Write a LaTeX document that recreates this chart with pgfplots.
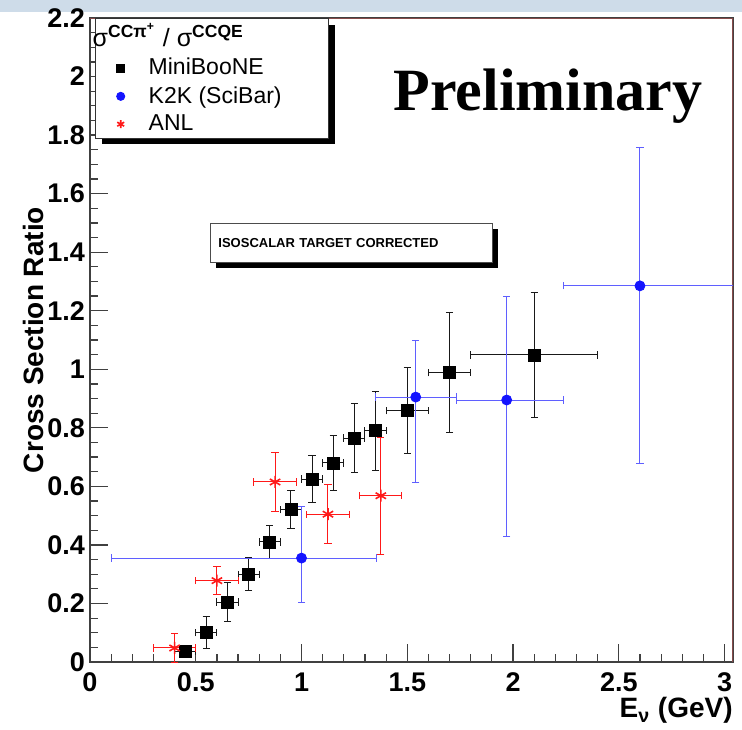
\documentclass[border=0pt]{standalone}
\usepackage{pgfplots}
\pgfplotsset{compat=1.18}
\usepackage{fontspec}
\setmainfont{Liberation Sans}
\newfontfamily\timesfont{Liberation Serif}
\usetikzlibrary{shadows}
\definecolor{k2kblue}{RGB}{20,20,255}
\definecolor{k2kerr}{RGB}{95,95,255}
\definecolor{anlred}{RGB}{255,25,25}
\definecolor{framebrown}{RGB}{135,75,75}
\definecolor{slidebar}{RGB}{206,220,233}

\begin{document}
\begin{tikzpicture}
% page frame: 742 x 729 px at 0.5pt per px, axis box at px (90..733, 18..662)
\useasboundingbox (-45pt,-33.5pt) rectangle (326pt,331pt);
\fill[slidebar] (-45pt,325pt) rectangle (326pt,331pt);
\begin{axis}[
  at={(0pt,0pt)}, anchor=south west,
  scale only axis, width=321.5pt, height=322pt,
  xmin=0, xmax=3.04, ymin=0, ymax=2.2,
  xtick={0,0.5,1,1.5,2,2.5,3},
  ytick={0,0.2,0.4,0.6,0.8,1,1.2,1.4,1.6,1.8,2,2.2},
  minor x tick num=4, minor y tick num=3,
  tick pos=left, tick align=inside,
  major tick length=9pt, minor tick length=4pt,
  every tick/.style={black!75, line width=0.6pt},
  axis line style={black!75, line width=0.7pt},
  tick label style={font=\fontsize{13.5}{16}\selectfont\bfseries},
  /pgf/number format/assume math mode=true,
  xticklabel style={yshift=-2pt},
  yticklabel style={xshift=1pt},
  xlabel={E\textsubscript{ν} (GeV)},
  ylabel={Cross Section Ratio},
  every axis x label/.style={at={(axis description cs:1,0)}, anchor=north east,
    inner sep=0pt, yshift=-17.5pt, font=\fontsize{14}{16}\selectfont\bfseries},
  every axis y label/.style={at={(axis description cs:-0.088,0.5)}, rotate=90,
    anchor=center, font=\fontsize{14}{16}\selectfont\bfseries},
  error bars/error bar style={line width=0.5pt},
  error bars/error mark options={rotate=90, mark size=1.8pt, line width=0.5pt},
  legend style={at={(axis description cs:0.008,1)}, anchor=north west,
    draw=black!80, fill=white, line width=0.5pt,
    font=\fontsize{11.5}{13}\selectfont,
    row sep=0.3pt, column sep=10pt, inner xsep=4pt, inner ysep=0.3pt,
    general shadow={shadow xshift=3pt, shadow yshift=-3pt, fill=black}},
  legend image post style={mark size=2pt},
  legend cell align=left,
]
% frame top and right in brown
\draw[framebrown, line width=0.7pt] (rel axis cs:0,1) -- (rel axis cs:1,1) -- (rel axis cs:1,0);

\addlegendimage{empty legend}
\addlegendentry{\hspace*{-28pt}\fontsize{12.5}{13}\selectfont σ\textsuperscript{\bfseries CCπ\textsuperscript{+}} / σ\textsuperscript{\bfseries CCQE}}

% MiniBooNE
\addplot[only marks, mark=square*, mark size=3pt, black,
  error bars/.cd, x dir=both, y dir=both, x explicit, y explicit,
  error bar style={black!90}]
  coordinates {
  (0.45,0.035) +- (0.05,0.02)
  (0.55,0.100) +- (0.05,0.055)
  (0.65,0.205) +- (0.05,0.066)
  (0.75,0.300) +- (0.05,0.057)
  (0.85,0.410) +- (0.05,0.057)
  (0.95,0.520) +- (0.05,0.065)
  (1.05,0.625) +- (0.05,0.080)
  (1.15,0.680) +- (0.05,0.093)
  (1.25,0.765) +- (0.05,0.118)
  (1.35,0.790) +- (0.05,0.135)
  (1.50,0.858) +- (0.10,0.147)
  (1.70,0.988) +- (0.10,0.205)
  (2.10,1.049) +- (0.30,0.215)
  };
\addlegendentry{\makebox[84pt][l]{MiniBooNE}}

% K2K (SciBar)
\addplot[only marks, mark=*, mark size=2.5pt, k2kblue,
  error bars/.cd, x dir=both, y dir=both, x explicit, y explicit,
  error bar style={k2kerr}, error mark options={k2kerr, rotate=90, mark size=1.8pt}]
  coordinates {
  (1.00,0.355) += (0.355,0.175) -= (0.90,0.150)
  (1.54,0.905) += (0.19,0.192) -= (0.19,0.290)
  (1.97,0.895) += (0.27,0.355) -= (0.24,0.465)
  (2.60,1.285) += (0.50,0.472) -= (0.36,0.605)
  };
\addlegendentry{K2K (SciBar)}

% ANL
\addplot[only marks, mark=asterisk, mark size=3pt, anlred, thick,
  error bars/.cd, x dir=both, y dir=both, x explicit, y explicit,
  error bar style={anlred, line width=0.5pt},
  error mark options={anlred, rotate=90, mark size=1.8pt, line width=0.5pt}]
  coordinates {
  (0.40,0.048) +- (0.10,0.050)
  (0.60,0.278) +- (0.10,0.048)
  (0.875,0.615) +- (0.10,0.100)
  (1.125,0.505) +- (0.10,0.100)
  (1.375,0.568) +- (0.10,0.200)
  };
\addlegendentry{ANL}

\node[font=\timesfont\bfseries\fontsize{30}{32}\selectfont, anchor=base]
  at (axis cs:2.165,1.885) {Preliminary};

\node[anchor=north west, draw=black!70, fill=white, line width=0.5pt,
  general shadow={shadow xshift=3pt, shadow yshift=-3pt, fill=black},
  minimum height=19.5pt, inner xsep=4pt, text width=133pt, align=left,
  font=\bfseries\fontsize{6.5}{8}\selectfont]
  at (axis cs:0.567,1.50) {ISOSCALAR TARGET CORRECTED};
\end{axis}
\end{tikzpicture}
\end{document}
